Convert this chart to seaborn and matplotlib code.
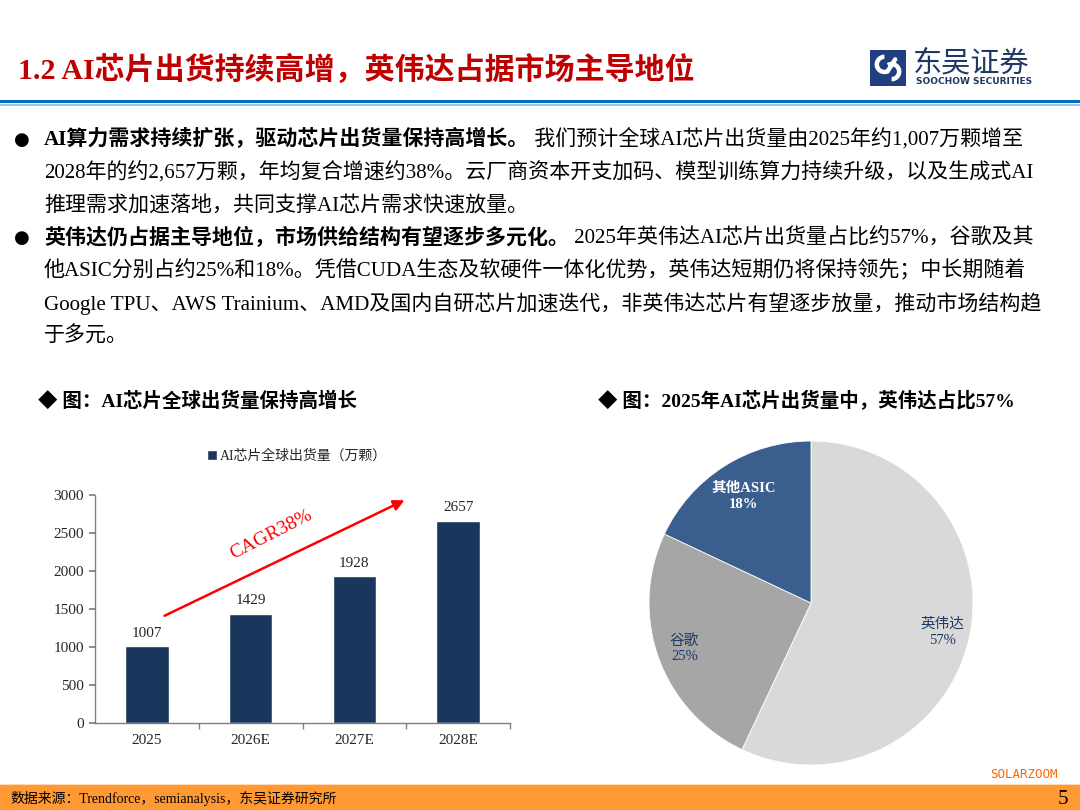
import numpy as np
import pandas as pd
import seaborn as sns
import matplotlib.pyplot as plt
from matplotlib.patches import Rectangle, Arc
plt.switch_backend('agg')

# data
years = ['2025', '2026E', '2027E', '2028E']
shipments = [1007, 1429, 1928, 2657]
vendors = ['英伟达', '谷歌', '其他ASIC']
shares = [57, 25, 18]
vendor_colors = ['#D9D9D9', '#A6A6A6', '#3A5F8F']
vendor_text_colors = ['#1F3864', '#1F3864', 'white']

bullet1 = [
    ('AI算力需求持续扩张，驱动芯片出货量保持高增长。', ' 我们预计全球AI芯片出货量由2025年约1,007万颗增至'),
    ('', '2028年的约2,657万颗，年均复合增速约38%。云厂商资本开支加码、模型训练算力持续升级，以及生成式AI'),
    ('', '推理需求加速落地，共同支撑AI芯片需求快速放量。'),
]
bullet2 = [
    ('英伟达仍占据主导地位，市场供给结构有望逐步多元化。', ' 2025年英伟达AI芯片出货量占比约57%，谷歌及其'),
    ('', '他ASIC分别占约25%和18%。凭借CUDA生态及软硬件一体化优势，英伟达短期仍将保持领先；中长期随着'),
    ('', 'Google TPU、AWS Trainium、AMD及国内自研芯片加速迭代，非英伟达芯片有望逐步放量，推动市场结构趋'),
    ('', '于多元。'),
]

sns.set_theme(style='white')
FONT = ['Liberation Serif', 'Noto Sans CJK SC', 'DejaVu Sans']
plt.rcParams['font.family'] = FONT
plt.rcParams['axes.unicode_minus'] = False

W, H = 1080, 810
fig = plt.figure(figsize=(10.8, 8.1), dpi=100)
fig.patch.set_facecolor('white')


def px(x, y):
    return x / W, 1 - y / H


def ftext(x, y, s, **kw):
    kw.setdefault('va', 'center')
    return fig.text(*px(x, y), s, **kw)


# header
ftext(18, 70, '1.2 AI芯片出货持续高增，英伟达占据市场主导地位', fontsize=21.6,
      color='#C00000', fontweight='bold')
fig.add_artist(Rectangle(px(0, 103), 1, 3.5 / H, transform=fig.transFigure,
                         color='#0070C0', lw=0))
fig.add_artist(Rectangle(px(0, 105.5), 1, 2 / H, transform=fig.transFigure,
                         color='#9DC3E6', lw=0))

# logo
lax = fig.add_axes([870 / W, 1 - 86 / H, 36 / W, 36 / H])
lax.set_xlim(0, 1)
lax.set_ylim(0, 1)
lax.axis('off')
lax.add_patch(Rectangle((0, 0), 1, 1, color='#1F3F80', lw=0))
lax.add_patch(Arc((0.40, 0.60), 0.42, 0.42, theta1=90, theta2=300, lw=3.2, color='white'))
lax.add_patch(Arc((0.60, 0.40), 0.42, 0.42, theta1=270, theta2=120, lw=3.2, color='white'))
lax.plot([0.49, 0.70], [0.41, 0.74], color='white', lw=3.2, solid_capstyle='round')
ftext(913, 63, '东吴证券', fontsize=21, color='#1F3864', family=['Noto Sans CJK SC'])
ftext(916, 81, 'SOOCHOW SECURITIES', fontsize=6.5, color='#1F3864',
      fontweight='bold', family=['DejaVu Sans'])

# bullets
renderer = fig.canvas.get_renderer()
FS = 15.1


def write_line(x, y, bold, normal):
    if bold:
        t = ftext(x, y, bold, fontsize=FS, fontweight='bold', color='black')
        bb = t.get_window_extent(renderer)
        x = bb.x1
    if normal:
        ftext(x, y, normal, fontsize=FS, color='black')


y0 = 140
for i, (b, n) in enumerate(bullet1 + bullet2):
    y = y0 + i * 32.7
    if i in (0, 3):
        ftext(14, y, '●', fontsize=13, color='black', family=['DejaVu Sans'])
    write_line(44, y, b, n)

# chart titles
ftext(38, 401, '◆ 图：AI芯片全球出货量保持高增长', fontsize=14, fontweight='bold',
      color='black')
ftext(598, 401, '◆ 图：2025年AI芯片出货量中，英伟达占比57%', fontsize=14, fontweight='bold',
      color='black')

# bar chart
df = pd.DataFrame({'year': years, 'value': shipments})
ax = fig.add_axes([95 / W, 1 - 723 / H, 415 / W, 228 / H])
sns.barplot(data=df, x='year', y='value', color='#1B365D', width=0.42, ax=ax,
            saturation=1, label='AI芯片全球出货量（万颗）')
ax.set_xlim(-0.5, 3.5)
ax.set_ylim(0, 3000)
ax.set_yticks(np.arange(0, 3001, 500))
ax.set_xlabel('')
ax.set_ylabel('')
ax.set_facecolor('white')
for s in ['top', 'right']:
    ax.spines[s].set_visible(False)
for s in ['left', 'bottom']:
    ax.spines[s].set_color('#808080')
    ax.spines[s].set_linewidth(1)
ax.tick_params(axis='y', which='major', left=True, length=4, color='#808080',
               labelsize=11, pad=4)
ax.tick_params(axis='x', which='major', length=0, labelsize=11, pad=8)
ax.set_xticks([0.5, 1.5, 2.5, 3.5], minor=True)
ax.tick_params(axis='x', which='minor', bottom=True, length=4, color='#808080')
for lab in ax.get_xticklabels() + ax.get_yticklabels():
    lab.set_family(FONT)
ax.bar_label(ax.containers[0], fmt='%d', padding=5, fontsize=11, family=FONT)
leg = ax.legend(loc='center', bbox_to_anchor=(0.487, 1.17), frameon=False,
                fontsize=10, handlelength=0.7, handleheight=0.7, handletextpad=0.2)
ax.annotate('', xy=(2.507, 2947), xytext=(0.146, 1395),
            arrowprops=dict(arrowstyle='-|>', color='#FF0000', lw=1.8, mutation_scale=16))
ax.text(1.2, 2474, 'CAGR38%', color='#FF0000', fontsize=14, rotation=27,
        ha='center', va='center')

# pie chart
pax = fig.add_axes([(811 - 162) / W, 1 - (603 + 162) / H, 324 / W, 324 / H])
wedges, _ = pax.pie(shares, colors=vendor_colors, startangle=90, counterclock=False,
                    radius=1, wedgeprops=dict(edgecolor='white', linewidth=0.6))
pax.set_xlim(-1, 1)
pax.set_ylim(-1, 1)
pax.set_aspect('equal')
for w, name, sh, tc in zip(wedges, vendors, shares, vendor_text_colors):
    ang = np.deg2rad((w.theta1 + w.theta2) / 2)
    r = 0.78 if tc == 'white' else 0.83
    pax.text(r * np.cos(ang), r * np.sin(ang), f'{name}\n{sh}%', ha='center', va='center',
             fontsize=10.5, color=tc, linespacing=1.3,
             fontweight='bold' if tc == 'white' else 'normal')

# footer
ftext(1058, 774, 'SOLARZOOM', fontsize=9, color='#FF6600', ha='right',
      family=['DejaVu Sans Mono'])
fig.add_artist(Rectangle(px(0, 810), 1, 26 / H, transform=fig.transFigure,
                         color='#FF9933', lw=0))
fig.add_artist(Rectangle(px(0, 785), 1, 1.5 / H, transform=fig.transFigure,
                         color='#FFD9B3', lw=0))
ftext(10, 799, '数据来源：Trendforce，semianalysis，东吴证券研究所', fontsize=10, color='black')
ftext(1068, 799, '5', fontsize=15, color='black', ha='right')

fig.savefig('out.png', dpi=100, facecolor='white')
